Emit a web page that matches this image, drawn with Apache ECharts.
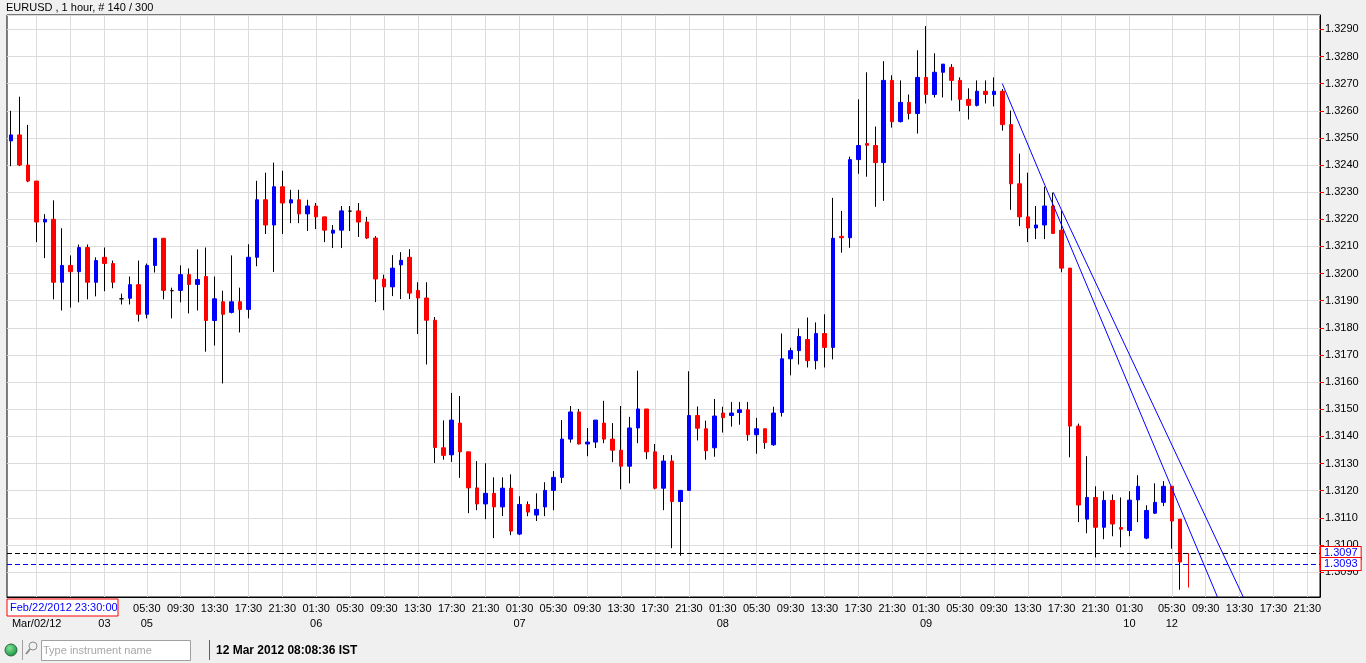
<!DOCTYPE html>
<html>
<head>
<meta charset="utf-8">
<title>EURUSD , 1 hour</title>
<script src="https://cdn.jsdelivr.net/npm/echarts@6/dist/echarts.min.js"></script>
<style>
html, body { margin: 0; padding: 0; background: #f0f0f0; }
#container { width: 1366px; height: 663px; }
</style>
</head>
<body>
<div id="container"></div>
<script>
// trading sessions (IST): day label, first hour, number of hourly bars (all at :30)
var sessions = [
    { day: 'Mar/02/12', start: 14, hours: 10 },
    { day: '03', start: 0, hours: 3 },
    { day: '05', start: 2, hours: 22 },
    { day: '06', start: 0, hours: 24 },
    { day: '07', start: 0, hours: 24 },
    { day: '08', start: 0, hours: 24 },
    { day: '09', start: 0, hours: 24 },
    { day: '10', start: 0, hours: 3 },
    { day: '12', start: 2, hours: 21 }
];

var opens = [
    1.32489, 1.32511, 1.32400, 1.32341, 1.32190, 1.32200, 1.31968, 1.32030, 1.32007, 1.32096,
    1.31968, 1.32060, 1.32037, 1.31907, 1.31909, 1.31959, 1.31850, 1.32030, 1.32130, 1.31937,
    1.31938, 1.31996, 1.31960, 1.31989, 1.31827, 1.31896, 1.31857, 1.31896, 1.31868, 1.32060,
    1.32272, 1.32179, 1.32320, 1.32260, 1.32272, 1.32220, 1.32249, 1.32209, 1.32149, 1.32160,
    1.32230, 1.32231, 1.32190, 1.32131, 1.31980, 1.31951, 1.32032, 1.32060, 1.31938, 1.31910,
    1.31828, 1.31358, 1.31332, 1.31449, 1.31343, 1.31210, 1.31151, 1.31190, 1.31140, 1.31209,
    1.31040, 1.31149, 1.31110, 1.31140, 1.31201, 1.31249, 1.31390, 1.31490, 1.31372, 1.31379,
    1.31449, 1.31390, 1.31349, 1.31290, 1.31431, 1.31501, 1.31343, 1.31209, 1.31309, 1.31160,
    1.31201, 1.31477, 1.31428, 1.31358, 1.31486, 1.31477, 1.31488, 1.31498, 1.31406, 1.31428,
    1.31369, 1.31488, 1.31686, 1.31716, 1.31757, 1.31679, 1.31779, 1.31728, 1.32137, 1.32132,
    1.32420, 1.32479, 1.32472, 1.32409, 1.32712, 1.32560, 1.32631, 1.32590, 1.32723, 1.32660,
    1.32742, 1.32760, 1.32712, 1.32642, 1.32620, 1.32672, 1.32660, 1.32672, 1.32549, 1.32331,
    1.32209, 1.32168, 1.32179, 1.32249, 1.32160, 1.32020, 1.31438, 1.31095, 1.31175, 1.31065,
    1.31164, 1.31064, 1.31053, 1.31166, 1.31025, 1.31117, 1.31157, 1.31216, 1.31095, 1.30970
];
var closes = [
    1.32511, 1.32400, 1.32341, 1.32190, 1.32200, 1.31968, 1.32030, 1.32007, 1.32096, 1.31968,
    1.32048, 1.32037, 1.31968, 1.31907, 1.31959, 1.31850, 1.32030, 1.32130, 1.31938, 1.31937,
    1.31996, 1.31960, 1.31978, 1.31827, 1.31907, 1.31850, 1.31896, 1.31868, 1.32060, 1.32272,
    1.32179, 1.32320, 1.32260, 1.32272, 1.32220, 1.32249, 1.32209, 1.32160, 1.32160, 1.32231,
    1.32230, 1.32190, 1.32131, 1.31980, 1.31951, 1.32020, 1.32049, 1.31928, 1.31910, 1.31828,
    1.31359, 1.31330, 1.31460, 1.31343, 1.31210, 1.31151, 1.31190, 1.31140, 1.31209, 1.31051,
    1.31149, 1.31121, 1.31131, 1.31201, 1.31249, 1.31390, 1.31490, 1.31372, 1.31379, 1.31460,
    1.31390, 1.31349, 1.31290, 1.31431, 1.31501, 1.31343, 1.31209, 1.31309, 1.31160, 1.31201,
    1.31477, 1.31430, 1.31347, 1.31475, 1.31469, 1.31486, 1.31498, 1.31406, 1.31428, 1.31377,
    1.31486, 1.31686, 1.31716, 1.31768, 1.31679, 1.31779, 1.31728, 1.32130, 1.32132, 1.32420,
    1.32472, 1.32473, 1.32409, 1.32712, 1.32560, 1.32631, 1.32590, 1.32723, 1.32660, 1.32742,
    1.32772, 1.32712, 1.32642, 1.32620, 1.32672, 1.32660, 1.32672, 1.32549, 1.32331, 1.32209,
    1.32168, 1.32179, 1.32249, 1.32148, 1.32020, 1.31438, 1.31147, 1.31175, 1.31065, 1.31164,
    1.31077, 1.31058, 1.31165, 1.31216, 1.31127, 1.31157, 1.31216, 1.31088, 1.30937, 1.30968
];
var lows = [
    1.32396, 1.32396, 1.32337, 1.32116, 1.32057, 1.31905, 1.31864, 1.31875, 1.31894, 1.31905,
    1.31916, 1.31935, 1.31946, 1.31886, 1.31886, 1.31823, 1.31835, 1.32004, 1.31905, 1.31835,
    1.31894, 1.31853, 1.31864, 1.31712, 1.31735, 1.31595, 1.31853, 1.31783, 1.31835, 1.32027,
    1.32146, 1.32006, 1.32146, 1.32186, 1.32186, 1.32157, 1.32164, 1.32116, 1.32094, 1.32094,
    1.32157, 1.32135, 1.32127, 1.31895, 1.31865, 1.31917, 1.31906, 1.31906, 1.31777, 1.31665,
    1.31302, 1.31314, 1.31306, 1.31247, 1.31117, 1.31128, 1.31095, 1.31025, 1.31106, 1.31036,
    1.31036, 1.31106, 1.31088, 1.31106, 1.31128, 1.31228, 1.31377, 1.31370, 1.31327, 1.31357,
    1.31375, 1.31305, 1.31205, 1.31227, 1.31375, 1.31316, 1.31205, 1.31128, 1.30988, 1.30960,
    1.31201, 1.31385, 1.31314, 1.31325, 1.31414, 1.31436, 1.31443, 1.31384, 1.31336, 1.31354,
    1.31365, 1.31473, 1.31625, 1.31665, 1.31654, 1.31647, 1.31654, 1.31684, 1.32077, 1.32095,
    1.32368, 1.32357, 1.32246, 1.32268, 1.32538, 1.32557, 1.32568, 1.32516, 1.32627, 1.32649,
    1.32649, 1.32638, 1.32598, 1.32568, 1.32616, 1.32627, 1.32616, 1.32527, 1.32235, 1.32175,
    1.32116, 1.32127, 1.32127, 1.32146, 1.32005, 1.31323, 1.31084, 1.31043, 1.30954, 1.31021,
    1.31032, 1.30991, 1.31032, 1.31084, 1.31021, 1.31114, 1.31143, 1.30986, 1.30835, 1.30843
];
var highs = [
    1.32600, 1.32652, 1.32548, 1.32341, 1.32219, 1.32270, 1.32167, 1.32067, 1.32107, 1.32107,
    1.32060, 1.32096, 1.32048, 1.31926, 1.31989, 1.32048, 1.32037, 1.32130, 1.32130, 1.31948,
    1.32030, 1.32019, 1.32089, 1.32096, 1.31989, 1.31937, 1.32067, 1.31948, 1.32108, 1.32342,
    1.32372, 1.32409, 1.32379, 1.32309, 1.32309, 1.32272, 1.32260, 1.32209, 1.32179, 1.32249,
    1.32249, 1.32260, 1.32209, 1.32138, 1.31996, 1.32068, 1.32079, 1.32090, 1.31968, 1.31968,
    1.31840, 1.31459, 1.31560, 1.31549, 1.31343, 1.31309, 1.31301, 1.31249, 1.31249, 1.31260,
    1.31179, 1.31160, 1.31190, 1.31231, 1.31272, 1.31460, 1.31512, 1.31501, 1.31431, 1.31460,
    1.31531, 1.31449, 1.31512, 1.31472, 1.31642, 1.31501, 1.31372, 1.31331, 1.31331, 1.31201,
    1.31640, 1.31510, 1.31458, 1.31538, 1.31509, 1.31527, 1.31527, 1.31527, 1.31468, 1.31428,
    1.31509, 1.31779, 1.31727, 1.31798, 1.31838, 1.31820, 1.31850, 1.32279, 1.32231, 1.32431,
    1.32642, 1.32742, 1.32542, 1.32783, 1.32731, 1.32712, 1.32660, 1.32823, 1.32912, 1.32812,
    1.32772, 1.32772, 1.32723, 1.32683, 1.32712, 1.32712, 1.32723, 1.32680, 1.32601, 1.32442,
    1.32372, 1.32249, 1.32320, 1.32298, 1.32231, 1.32020, 1.31447, 1.31327, 1.31216, 1.31198,
    1.31186, 1.31175, 1.31198, 1.31257, 1.31146, 1.31227, 1.31235, 1.31216, 1.31095, 1.30970
];

// bid / ask lines and the two hand drawn trend lines ([bar index, price])
var priceLines = [1.3097, 1.3093];
var trendA = [[117, 1.32700], [145, 1.30614]];
var trendB = [[123, 1.32300], [150, 1.30505]];
var formingIndex = 139;   // current bar, still open

var font = 'Liberation Sans, Arial, sans-serif';

// category names + which bars carry a time label (every 4 hours, 01:30, 05:30 ...)
var categories = [];
var tickText = {};
sessions.forEach(function (s) {
    var first = true;
    for (var h = s.start; h < s.start + s.hours; h++) {
        var hh = (h < 10 ? '0' : '') + h + ':30';
        var idx = categories.length;
        categories.push(s.day + ' ' + hh);
        if (h % 4 === 1) {
            tickText[idx] = first ? hh + '\n' + s.day : hh;
            first = false;
        }
    }
});
function isTick(index) {
    return tickText.hasOwnProperty(index);
}

// wick series (black line low..high) and body series (open..close)
var wicks = [];
var bodies = [];
for (var i = 0; i < opens.length; i++) {
    var o = opens[i], c = closes[i];
    var w = { value: [o, c, lows[i], highs[i]] };
    var b = { value: [o, c, Math.min(o, c), Math.max(o, c)] };
    if (i === formingIndex) {
        w.itemStyle = { color: '#ff0000', color0: '#ff0000', borderColor: '#ff0000', borderColor0: '#ff0000' };
        b.itemStyle = { opacity: 0 };
    } else if (o === c) {
        b.itemStyle = { color: '#000', color0: '#000', borderColor: '#000', borderColor0: '#000' };
    }
    wicks.push(w);
    bodies.push(b);
}

var myChart = echarts.init(document.getElementById('container'));
var option = {
    backgroundColor: '#f0f0f0',
    animation: false,
    title: {
        text: 'EURUSD , 1 hour, # 140 / 300',
        left: 6,
        top: 2,
        padding: 0,
        textStyle: { fontSize: 11, fontWeight: 'normal', color: '#000', fontFamily: font }
    },
    grid: {
        left: 7, right: 46, top: 15, bottom: 66,
        show: true,
        backgroundColor: '#fff',
        borderColor: '#000',
        borderWidth: 1
    },
    xAxis: {
        type: 'category',
        data: categories,
        boundaryGap: true,
        axisLine: { lineStyle: { color: '#000', width: 1 } },
        axisTick: { alignWithLabel: true, interval: isTick, length: 3, lineStyle: { color: '#ff0000' } },
        axisLabel: {
            interval: isTick,
            showMinLabel: true,
            showMaxLabel: true,
            formatter: function (value, index) { return tickText[index] || ''; },
            color: '#000',
            fontSize: 11,
            fontFamily: font,
            lineHeight: 15,
            margin: 4
        },
        splitLine: { show: true, interval: isTick, alignWithLabel: true, lineStyle: { color: '#dcdcdc' } }
    },
    yAxis: {
        type: 'value',
        position: 'right',
        scale: true,
        min: 1.30808,
        max: 1.32953,
        splitNumber: 21,
        axisLine: { show: true, lineStyle: { color: '#000' } },
        axisTick: { show: true, length: 4, lineStyle: { color: '#ff0000' } },
        axisLabel: {
            color: '#000',
            fontSize: 11,
            fontFamily: font,
            margin: 5,
            showMinLabel: false,
            showMaxLabel: false,
            formatter: function (v) { return v.toFixed(4); }
        },
        splitLine: { show: true, lineStyle: { color: '#dcdcdc' } }
    },
    series: [
        {
            name: 'wick',
            type: 'candlestick',
            data: wicks,
            barWidth: 1,
            silent: true,
            itemStyle: { color: '#000', color0: '#000', borderColor: '#000', borderColor0: '#000', borderWidth: 1 }
        },
        {
            name: 'EURUSD',
            type: 'candlestick',
            data: bodies,
            barWidth: 4,
            silent: true,
            itemStyle: { color: '#0000ff', color0: '#ff0000', borderColor: '#0000ff', borderColor0: '#ff0000', borderWidth: 1 }
        },
        {
            name: 'trend1',
            type: 'line',
            data: trendA,
            symbol: 'none',
            silent: true,
            lineStyle: { color: '#0000ff', width: 1 }
        },
        {
            name: 'trend2',
            type: 'line',
            data: trendB,
            symbol: 'none',
            silent: true,
            lineStyle: { color: '#0000ff', width: 1 }
        },
        {
            name: 'levels',
            type: 'line',
            data: [],
            clip: false,
            markLine: {
                silent: true,
                precision: 4,
                symbol: ['none', 'none'],
                lineStyle: { type: [5, 3], width: 1 },
                label: {
                    position: 'end',
                    distance: 1,
                    formatter: function (p) { return p.value.toFixed(4); },
                    color: '#0000ff',
                    backgroundColor: '#fff',
                    borderColor: '#ff0000',
                    borderWidth: 1,
                    padding: [1, 3, 0, 3],
                    fontSize: 11,
                    lineHeight: 11,
                    fontFamily: font
                },
                data: [
                    { yAxis: priceLines[0], lineStyle: { color: '#000' } },
                    { yAxis: priceLines[1], lineStyle: { color: '#0000ff' } }
                ]
            }
        }
    ],
    graphic: [
        // cursor date readout on the time axis
        { type: 'rect', z: 100, shape: { x: 7, y: 599, width: 111, height: 17 },
          style: { fill: '#fff', stroke: '#ff0000', lineWidth: 1 } },
        { type: 'text', z: 101, x: 10, y: 608,
          style: { text: 'Feb/22/2012 23:30:00', fill: '#0000ff', font: '11px ' + font, verticalAlign: 'middle' } },
        // status bar
        { type: 'circle', z: 100, shape: { cx: 11, cy: 650, r: 6 },
          style: {
              fill: new echarts.graphic.RadialGradient(0.4, 0.35, 0.7, [
                  { offset: 0, color: '#7fe59a' }, { offset: 1, color: '#138a3a' }
              ]),
              stroke: '#2d6a3e', lineWidth: 1
          } },
        { type: 'line', z: 100, shape: { x1: 22.5, y1: 640, x2: 22.5, y2: 660 }, style: { stroke: '#a0a0a0' } },
        { type: 'circle', z: 100, shape: { cx: 33, cy: 646, r: 4 }, style: { fill: 'none', stroke: '#8c8c8c', lineWidth: 1 } },
        { type: 'line', z: 100, shape: { x1: 30, y1: 649, x2: 26, y2: 654 }, style: { stroke: '#8c8c8c', lineWidth: 2 } },
        { type: 'rect', z: 100, shape: { x: 41.5, y: 640.5, width: 149, height: 20 },
          style: { fill: '#fff', stroke: '#a0a0a0', lineWidth: 1 } },
        { type: 'text', z: 101, x: 43, y: 650.5,
          style: { text: 'Type instrument name', fill: '#a8a8a8', font: '11px ' + font, verticalAlign: 'middle' } },
        { type: 'line', z: 100, shape: { x1: 209.5, y1: 640, x2: 209.5, y2: 660 }, style: { stroke: '#606060' } },
        { type: 'text', z: 101, x: 216, y: 651,
          style: { text: '12 Mar 2012 08:08:36 IST', fill: '#000', font: 'bold 12px ' + font, verticalAlign: 'middle' } }
    ]
};
myChart.setOption(option, true);
</script>
</body>
</html>
